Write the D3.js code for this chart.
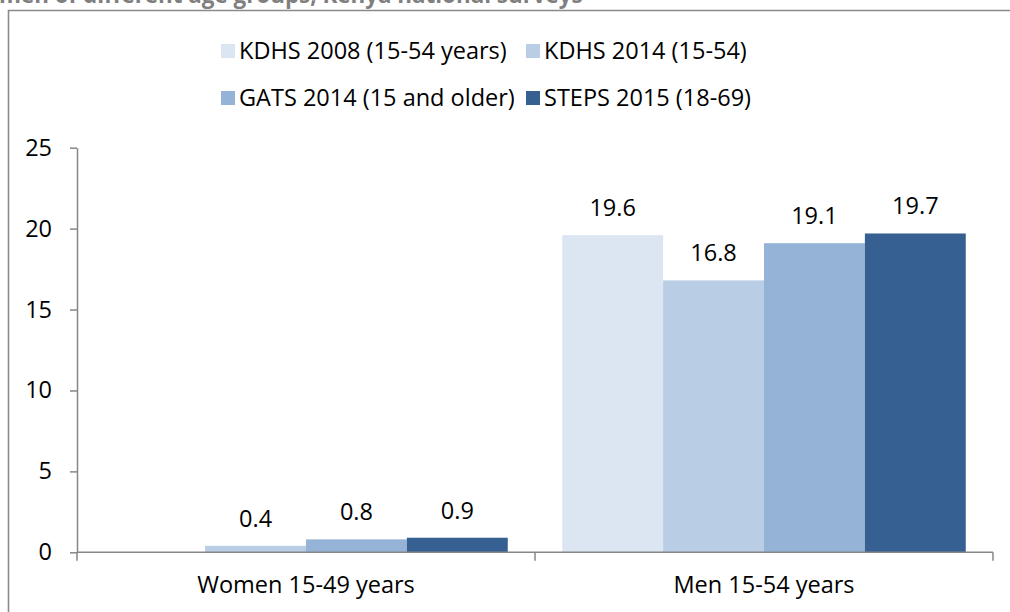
<!DOCTYPE html>
<html><head><meta charset="utf-8">
<script src="https://cdn.jsdelivr.net/npm/d3@7"></script>
<style>
body{margin:0;background:#fff}
svg{display:block}
text{font-family:"Open Sans",Lato,sans-serif;fill:#000}
</style>
</head><body>
<svg id="c" width="1010" height="612"></svg>
<script>
// ---- data ----
const categories = ["Women 15-49 years", "Men 15-54 years"];
const seriesNames = ["KDHS 2008 (15-54 years)", "KDHS 2014 (15-54)", "GATS 2014 (15 and older)", "STEPS 2015 (18-69)"];
const kdhs2008 = [null, 19.6];
const kdhs2014 = [0.4, 16.8];
const gats2014 = [0.8, 19.1];
const steps2015 = [0.9, 19.7];
const yTicks = [0, 5, 10, 15, 20, 25];
const colors = ["#DCE6F2", "#B9CDE5", "#95B3D7", "#376092"];
const titleText = "men of different age groups, Kenya national surveys";

const seriesValues = [kdhs2008, kdhs2014, gats2014, steps2015];
const svg = d3.select("#c");
const FS = "23.5px";

// frame
svg.append("path").attr("d", "M8.5,612 V10.5 H1010").attr("fill", "none")
  .attr("stroke", "#8a8a8a").attr("stroke-width", 1.6);

// cut-off title
svg.append("text").attr("x", -1).attr("y", 3).text(titleText)
  .style("font-weight", "bold").style("font-size", "22.4px").style("fill", "#7f7f7f");

const y = d3.scaleLinear().domain([0, 25]).range([552.3, 147.7]);
const x0 = d3.scaleBand().domain(categories).range([77, 993]).paddingInner(0).paddingOuter(0);
const x1 = d3.scaleBand().domain(seriesNames).range([0, x0.bandwidth()]).paddingInner(0).paddingOuter(0.27);

const axisColor = "#868686";

// y axis
const yAxis = d3.axisLeft(y).tickValues(yTicks).tickSize(7).tickSizeOuter(0).tickPadding(18).tickFormat(d3.format("d"));
const gy = svg.append("g").attr("transform", "translate(77,0)").call(yAxis);
gy.selectAll("path,line").attr("stroke", axisColor).attr("stroke-width", 1.5);
gy.selectAll("text").style("font-size", FS).attr("fill", "#000").attr("font-family", null);

// bars
const groups = svg.append("g");
categories.forEach((c, ci) => {
  seriesNames.forEach((s, si) => {
    const v = seriesValues[si][ci];
    if (v === null) return;
    groups.append("rect")
      .attr("x", x0(c) + x1(s))
      .attr("y", y(v))
      .attr("width", x1.bandwidth())
      .attr("height", y(0) - y(v))
      .attr("fill", colors[si]);
    groups.append("text")
      .attr("x", x0(c) + x1(s) + x1.bandwidth() / 2)
      .attr("y", y(v) - 19)
      .attr("text-anchor", "middle")
      .style("font-size", FS)
      .text(d3.format(".1f")(v));
  });
});

// x axis
const xb = d3.scaleLinear().domain([0, categories.length]).range([77, 993]);
const gx = svg.append("g");
gx.append("line").attr("x1", 77).attr("x2", 993).attr("y1", y(0)).attr("y2", y(0))
  .attr("stroke", axisColor).attr("stroke-width", 1.5);
d3.range(categories.length + 1).forEach(i => {
  gx.append("line").attr("x1", xb(i)).attr("x2", xb(i)).attr("y1", y(0)).attr("y2", y(0) + 8.5)
    .attr("stroke", axisColor).attr("stroke-width", 1.5);
});
categories.forEach(c => {
  gx.append("text").attr("x", x0(c) + x0.bandwidth() / 2).attr("y", 593)
    .attr("text-anchor", "middle").style("font-size", FS).text(c);
});

// legend
const legPos = [[221, 44], [526, 44], [221, 91], [526, 91]];
seriesNames.forEach((s, i) => {
  const [lx, ly] = legPos[i];
  svg.append("rect").attr("x", lx).attr("y", ly).attr("width", 14).attr("height", 14).attr("fill", colors[i]);
  svg.append("text").attr("x", lx + 18).attr("y", ly + 15).style("font-size", FS).text(s);
});
</script>
</body></html>
